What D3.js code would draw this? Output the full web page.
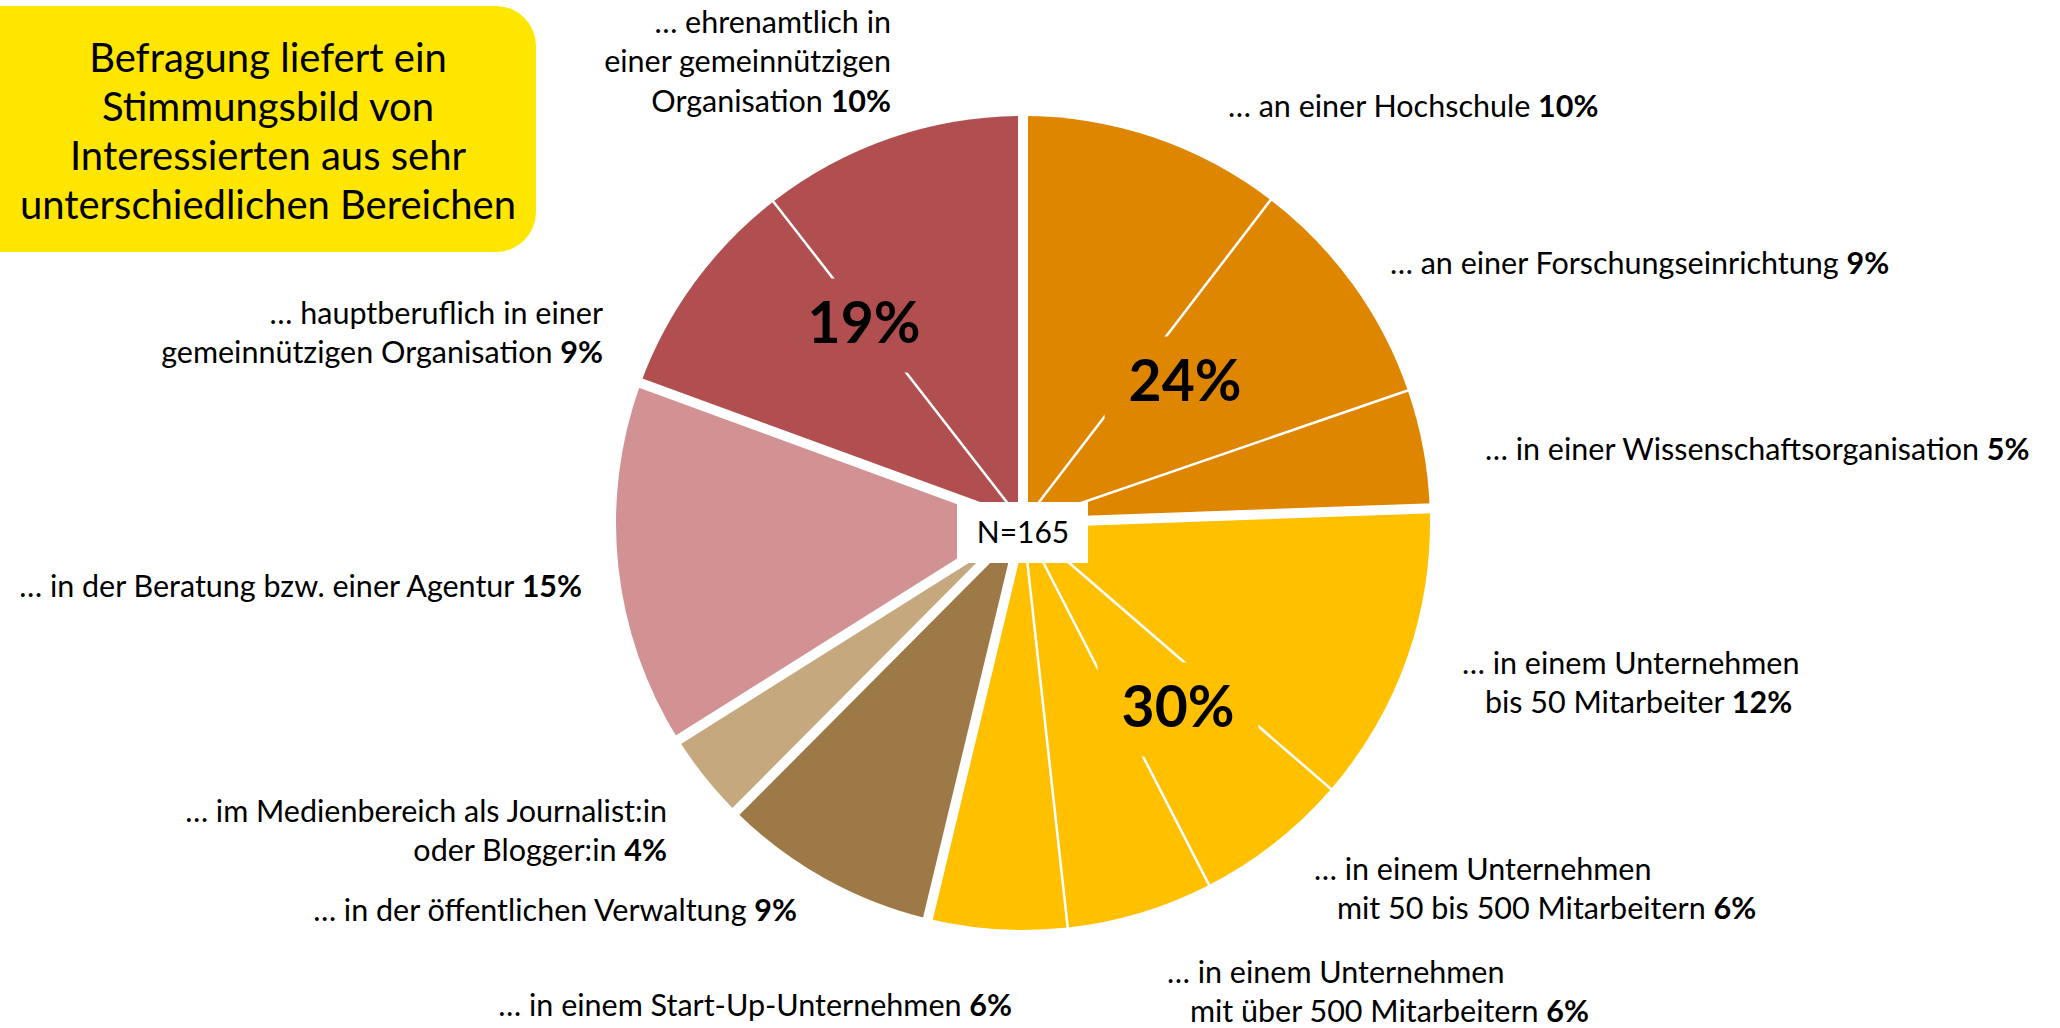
<!DOCTYPE html>
<html><head><meta charset="utf-8">
<script src="https://cdn.jsdelivr.net/npm/d3@7"></script>
<style>
body{margin:0;background:#fff}
svg{display:block}
text{font-family:Lato,'Open Sans','Noto Sans',sans-serif;fill:#000}
</style>
</head><body>
<svg id="chart" width="2060" height="1028"></svg>
<script>
// ---------------- data ----------------
const categories = [
  "an einer Hochschule",
  "an einer Forschungseinrichtung",
  "in einer Wissenschaftsorganisation",
  "in einem Unternehmen bis 50 Mitarbeiter",
  "in einem Unternehmen mit 50 bis 500 Mitarbeitern",
  "in einem Unternehmen mit über 500 Mitarbeitern",
  "in einem Start-Up-Unternehmen",
  "in der öffentlichen Verwaltung",
  "im Medienbereich als Journalist:in oder Blogger:in",
  "in der Beratung bzw. einer Agentur",
  "hauptberuflich in einer gemeinnützigen Organisation",
  "ehrenamtlich in einer gemeinnützigen Organisation"
];
// shares (percent)
const values = [10.4, 9.3, 4.7, 11.9, 6.1, 5.8, 5.5, 8.7, 3.6, 14.5, 8.9, 10.5];
// percentages as printed in the labels
const printedPct = [10, 9, 5, 12, 6, 6, 6, 9, 4, 15, 9, 10];
const groups = ["Wissenschaft","Wissenschaft","Wissenschaft",
                "Wirtschaft","Wirtschaft","Wirtschaft","Wirtschaft",
                "Verwaltung","Medien","Beratung",
                "Gemeinnützig","Gemeinnützig"];
const groupNames = ["Wissenschaft","Wirtschaft","Verwaltung","Medien","Beratung","Gemeinnützig"];
const groupTotals = [24, 30, 9, 4, 15, 19];
const labelLines = [
  ["… an einer Hochschule"],
  ["… an einer Forschungseinrichtung"],
  ["… in einer Wissenschaftsorganisation"],
  ["… in einem Unternehmen", "bis 50 Mitarbeiter"],
  ["… in einem Unternehmen", "mit 50 bis 500 Mitarbeitern"],
  ["… in einem Unternehmen", "mit über 500 Mitarbeitern"],
  ["… in einem Start-Up-Unternehmen"],
  ["… in der öffentlichen Verwaltung"],
  ["… im Medienbereich als Journalist:in", "oder Blogger:in"],
  ["… in der Beratung bzw. einer Agentur"],
  ["… hauptberuflich in einer", "gemeinnützigen Organisation"],
  ["… ehrenamtlich in", "einer gemeinnützigen", "Organisation"]
];
const sampleLabel = "N=165";
const titleLines = ["Befragung liefert ein", "Stimmungsbild von", "Interessierten aus sehr", "unterschiedlichen Bereichen"];

// ---------------- styles / layout ----------------
const groupColors = {
  "Wissenschaft":"#DF8600","Wirtschaft":"#FFC000","Verwaltung":"#9C7947",
  "Medien":"#C5A87E","Beratung":"#D29293","Gemeinnützig":"#B14F50"
};
const cx = 1023, cy = 523, R = 407;
const FS = 30.5, LH = 39.5, BIG = 57;
const labelLayout = [
  {anchor:"start", x:1228, y:106},
  {anchor:"start", x:1390, y:263},
  {anchor:"start", x:1485, y:449},
  {anchor:"start", x:1462, y:663, hang:true},
  {anchor:"start", x:1314, y:869, hang:true},
  {anchor:"start", x:1167, y:972, hang:true},
  {anchor:"end",   x:1012, y:1005},
  {anchor:"end",   x:797,  y:910},
  {anchor:"end",   x:667,  y:811},
  {anchor:"end",   x:582,  y:586},
  {anchor:"end",   x:603,  y:313},
  {anchor:"end",   x:891,  y:22}
];
const groupLabelPos = {
  "Wissenschaft":[1185,380], "Wirtschaft":[1178,706], "Gemeinnützig":[864,322]
};

const svg = d3.select("#chart");
const g = svg.append("g").attr("transform", `translate(${cx},${cy})`);

const pie = d3.pie().sort(null).value(d => d);
const arcs = pie(values);
const arc = d3.arc().innerRadius(0).outerRadius(R);

g.selectAll("path.slice").data(arcs).join("path")
  .attr("class","slice")
  .attr("d", arc)
  .attr("fill", (d,i) => groupColors[groups[i]]);

// boundaries: thick white between groups, thin white inside a group
const rr = R + 3;
arcs.forEach((d,i) => {
  const next = (i + 1) % values.length;
  const thick = groups[i] !== groups[next];
  const a = d.endAngle;
  g.append("line")
    .attr("x1",0).attr("y1",0)
    .attr("x2", rr*Math.sin(a)).attr("y2", -rr*Math.cos(a))
    .attr("stroke","#fff")
    .attr("stroke-width", thick ? 10 : 2.5);
});

// group labels with slice-coloured backing
groupNames.forEach((name, gi) => {
  const pos = groupLabelPos[name];
  if (!pos) return;
  const t = svg.append("text")
    .attr("x", pos[0]).attr("y", pos[1] + 0.36*BIG)
    .attr("text-anchor","middle")
    .style("font-size", BIG+"px").style("font-weight","700")
    .text(groupTotals[gi] + "%");
  const bb = t.node().getBBox();
  svg.insert("rect", () => t.node())
    .attr("x", bb.x - 24).attr("y", bb.y - 8)
    .attr("width", bb.width + 48).attr("height", bb.height + 26)
    .attr("fill", groupColors[name]);
});

// centre box
const nb = svg.append("g").attr("transform", `translate(${cx},${cy})`);
nb.append("rect").attr("x",-66).attr("y",-21).attr("width",131).attr("height",61).attr("fill","#fff");
nb.append("text").attr("x",0).attr("y",9 + 0.36*30).attr("text-anchor","middle")
  .style("font-size","30px").text(sampleLabel);

// slice labels
const measure = svg.append("text").style("font-size", FS+"px").attr("x",-1000).attr("y",-1000).text("… ");
const hangW = measure.node().getComputedTextLength();
measure.remove();

labelLines.forEach((lines, i) => {
  const L = labelLayout[i];
  lines.forEach((ln, j) => {
    const last = j === lines.length - 1;
    let x = L.x;
    if (L.hang && j > 0) x = L.x + hangW;
    const t = svg.append("text")
      .attr("x", x).attr("y", L.y + j*LH + 0.36*FS)
      .attr("text-anchor", L.anchor)
      .style("font-size", FS+"px");
    t.append("tspan").text(ln + (last ? " " : ""));
    if (last) t.append("tspan").style("font-weight","700").text(printedPct[i] + "%");
  });
});

// title box
svg.append("rect").attr("x",-40).attr("y",6).attr("width",576).attr("height",246)
  .attr("rx",40).attr("ry",40).attr("fill","#FFE600");
titleLines.forEach((ln, i) => {
  svg.append("text").attr("x", 268).attr("y", 58 + i*49 + 0.36*40)
    .attr("text-anchor","middle").style("font-size","40px").text(ln);
});
</script>
</body></html>
